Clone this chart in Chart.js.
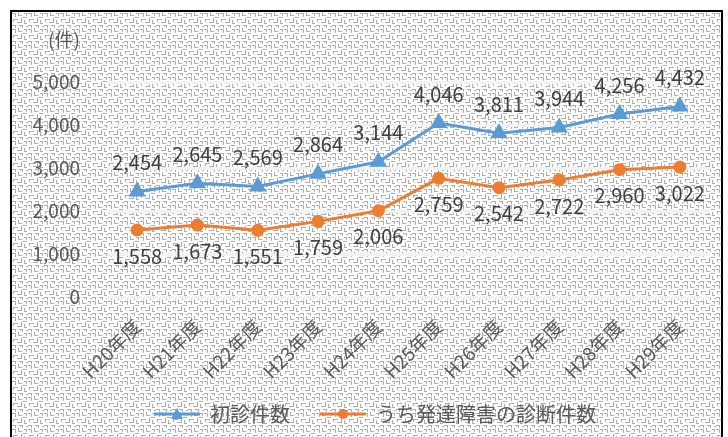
<!DOCTYPE html>
<html>
<head>
<meta charset="utf-8">
<script src="https://cdn.jsdelivr.net/npm/chart.js@4/dist/chart.umd.min.js"></script>
<style>
  html, body { margin: 0; padding: 0; background: #fff; }
  #frame {
    position: absolute; left: 10px; top: 10px; width: 709px; height: 440px;
    border: 2px solid #000;
    background-color: #fff;
    background-image: url("data:image/svg+xml,%3Csvg xmlns='http://www.w3.org/2000/svg' width='16' height='16'%3E%3Cg fill='%23adadad'%3E%3Crect x='0' y='1' width='4' height='1'/%3E%3Crect x='3' y='1' width='1' height='4'/%3E%3Crect x='6' y='0' width='1' height='3'/%3E%3Crect x='6' y='3' width='4' height='1'/%3E%3Crect x='12' y='1' width='3' height='1'/%3E%3Crect x='14' y='1' width='1' height='3'/%3E%3Crect x='9' y='6' width='1' height='4'/%3E%3Crect x='11' y='5' width='4' height='1'/%3E%3Crect x='1' y='7' width='5' height='1'/%3E%3Crect x='1' y='7' width='1' height='3'/%3E%3Crect x='5' y='10' width='5' height='1'/%3E%3Crect x='12' y='8' width='1' height='4'/%3E%3Crect x='12' y='11' width='3' height='1'/%3E%3Crect x='0' y='13' width='3' height='1'/%3E%3Crect x='3' y='13' width='1' height='3'/%3E%3Crect x='7' y='13' width='4' height='1'/%3E%3Crect x='10' y='13' width='1' height='3'/%3E%3Crect x='14' y='14' width='2' height='1'/%3E%3C/g%3E%3C/svg%3E");
  }
  #c { position: absolute; left: 0; top: 0; }
</style>
</head>
<body>
<div id="frame"></div>
<canvas id="c" width="728" height="437"></canvas>
<script>
// ---- data ----
const years = ["H20年度", "H21年度", "H22年度", "H23年度", "H24年度", "H25年度", "H26年度", "H27年度", "H28年度", "H29年度"];
const firstVisits = [2454, 2645, 2569, 2864, 3144, 4046, 3811, 3944, 4256, 4432];
const devDiagnoses = [1558, 1673, 1551, 1759, 2006, 2759, 2542, 2722, 2960, 3022];
const seriesNames = ["初診件数", "うち発達障害の診断件数"];
const yMax = 5000;
const yStep = 1000;
const unitLabel = "(件)";

const BLUE = "#5B9BD5";
const ORANGE = "#ED7D31";
const FONT = "'Noto Sans CJK JP', 'Noto Sans', sans-serif";

const fmt = v => v.toLocaleString("en-US");

// small legend icons: line with marker in the middle
function legendIcon(color, shape) {
    const cv = document.createElement("canvas");
    cv.width = 46; cv.height = 14;
    const ctx = cv.getContext("2d");
    ctx.strokeStyle = color; ctx.fillStyle = color; ctx.lineWidth = 3;
    ctx.beginPath(); ctx.moveTo(0, 7); ctx.lineTo(46, 7); ctx.stroke();
    ctx.beginPath();
    if (shape === "triangle") {
        ctx.moveTo(23, 1); ctx.lineTo(29, 12); ctx.lineTo(17, 12); ctx.closePath();
    } else {
        ctx.arc(23, 7, 5, 0, Math.PI * 2);
    }
    ctx.fill();
    return cv;
}
const legendIcons = [legendIcon(BLUE, "triangle"), legendIcon(ORANGE, "circle")];

// value labels above (blue) / below (orange) points
const valueLabels = {
    id: "valueLabels",
    afterDatasetsDraw(chart) {
        const ctx = chart.ctx;
        ctx.save();
        ctx.font = "20px " + FONT;
        ctx.fillStyle = "#404040";
        ctx.textAlign = "center";
        ctx.textBaseline = "middle";
        chart.data.datasets.forEach((ds, i) => {
            const off = i === 0 ? -29 : 26;
            chart.getDatasetMeta(i).data.forEach((pt, j) => {
                ctx.fillText(fmt(ds.data[j]), pt.x, pt.y + off);
            });
        });
        ctx.restore();
    }
};

// unit label above the y axis, legend nudge, room for rotated year labels
const extras = {
    id: "extras",
    afterLayout(chart) {
        chart.legend.left += 20;
        chart.legend.right += 20;
        chart.legend.top += 2;
        chart.legend.bottom += 2;
        chart.scales.x.bottom += 14; // labels are clipped to the axis box
    },
    afterDraw(chart) {
        const ctx = chart.ctx;
        ctx.save();
        ctx.font = "19px " + FONT;
        ctx.fillStyle = "#595959";
        ctx.textAlign = "center";
        ctx.textBaseline = "middle";
        ctx.fillText(unitLabel, 64, chart.chartArea.top - 42);
        ctx.restore();
    }
};

new Chart(document.getElementById("c").getContext("2d"), {
    type: "line",
    data: {
        labels: years,
        datasets: [{
            label: seriesNames[0],
            data: firstVisits,
            borderColor: BLUE,
            backgroundColor: BLUE,
            borderWidth: 3,
            pointStyle: "triangle",
            pointRadius: 7,
            pointHoverRadius: 7,
            tension: 0
        }, {
            label: seriesNames[1],
            data: devDiagnoses,
            borderColor: ORANGE,
            backgroundColor: ORANGE,
            borderWidth: 3,
            pointStyle: "circle",
            pointRadius: 5,
            pointHoverRadius: 5,
            tension: 0
        }]
    },
    options: {
        responsive: false,
        animation: false,
        layout: { padding: { left: 0, right: 18, top: 82, bottom: 5 } },
        plugins: {
            tooltip: { enabled: false },
            legend: {
                position: "bottom",
                labels: {
                    usePointStyle: true,
                    pointStyleWidth: 46,
                    padding: 30,
                    color: "#595959",
                    font: { family: FONT, size: 20 },
                    generateLabels: chart => Chart.defaults.plugins.legend.labels.generateLabels(chart)
                        .map((l, i) => ({ ...l, pointStyle: legendIcons[i] }))
                }
            }
        },
        scales: {
            x: {
                offset: true,
                grid: { display: false },
                border: { display: false },
                ticks: {
                    color: "#595959",
                    font: { family: FONT, size: 19 },
                    minRotation: 45,
                    maxRotation: 45,
                    padding: 10
                },
                afterFit: s => { s.height = 75; }
            },
            y: {
                min: 0,
                max: yMax,
                grid: { color: "#f2f2f2", lineWidth: 3, drawTicks: false },
                border: { display: false },
                ticks: {
                    stepSize: yStep,
                    color: "#595959",
                    font: { family: FONT, size: 19 },
                    padding: 27,
                    callback: v => fmt(v)
                },
                afterFit: s => { s.width = 107; }
            }
        }
    },
    plugins: [valueLabels, extras]
});
</script>
</body>
</html>
